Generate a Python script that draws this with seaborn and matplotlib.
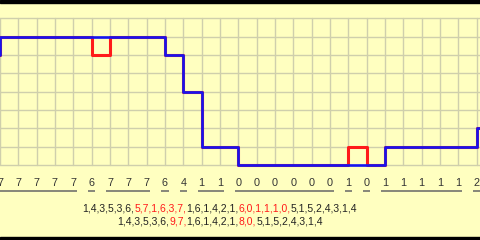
import matplotlib
matplotlib.use("Agg")
import matplotlib.pyplot as plt
import seaborn as sns
import pandas as pd
import numpy as np
from matplotlib.offsetbox import TextArea, HPacker, AnchoredOffsetbox
from matplotlib.patches import Rectangle
import matplotlib.transforms as mtransforms

# ---- data ----
positions = list(range(-1, 28))
prev_value = 6
red_values = [7, 7, 7, 7, 7, 6, 7, 7, 7, 6, 4, 1, 1, 0, 0, 0, 0, 0, 0, 1, 0, 1, 1, 1, 1, 1, 2]
blue_values = [7, 7, 7, 7, 7, 7, 7, 7, 7, 6, 4, 1, 1, 0, 0, 0, 0, 0, 0, 0, 0, 1, 1, 1, 1, 1, 2]
tick_labels = [str(v) for v in red_values]

line1_parts = [("1,4,3,5,3,6,", "k"), ("5,7,1,6,3,7,", "r"), ("1,6,1,4,2,1,", "k"),
               ("6,0,1,1,1,0,", "r"), ("5,1,5,2,4,3,1,4", "k")]
line2_parts = [("1,4,3,5,3,6,", "k"), ("9,7,", "r"), ("1,6,1,4,2,1,", "k"),
               ("8,0,", "r"), ("5,1,5,2,4,3,1,4", "k")]

sns.set_style("white")
plt.rcParams['font.family'] = ['Liberation Sans', 'DejaVu Sans']

BG = "#ffffc0"
RED = "#ff1a1a"
BLUE = "#1414f0"
TXT = "#222222"

fig = plt.figure(figsize=(4.8, 2.4), dpi=100)
fig.patch.set_facecolor(BG)
ax = fig.add_axes([0, 1 - 170 / 240, 1, 170 / 240])
ax.set_facecolor(BG)

unit = 240 / 480 * 0  # placeholder
xmax = 480 / (55 / 3)
ax.set_xlim(0, xmax)
ax.set_ylim(-5 / (55 / 3), 9)

# grid box (value 0..8, index 0..26)
for i in range(0, 27):
    ax.plot([i, i], [0, 8], color="#cfcfac", lw=1.0, zorder=1)
for v in range(0, 9):
    ax.plot([0, xmax], [v, v], color="#cfcfac", lw=1.0, zorder=1)

red_full = [prev_value] + red_values + [red_values[-1]]
blue_full = [prev_value] + blue_values + [blue_values[-1]]
df = pd.DataFrame({"pos": positions, "red": red_full, "blue": blue_full})

sns.lineplot(data=df, x="pos", y="red", ax=ax, color=RED, lw=2.2,
             drawstyle="steps-post", estimator=None, zorder=3)
sns.lineplot(data=df, x="pos", y="blue", ax=ax, color=BLUE, lw=1.9,
             drawstyle="steps-post", estimator=None, zorder=4)

ax.set_xlim(0, xmax)
ax.set_ylim(-5 / (55 / 3), 9)
ax.set_xlabel("")
ax.set_ylabel("")
ax.set_xticks([])
ax.set_yticks([])
for s in ax.spines.values():
    s.set_visible(False)

# x labels below axes with run underlines
trans = mtransforms.blended_transform_factory(ax.transData, fig.transFigure)
for i, lab in enumerate(tick_labels):
    fig.text(0, 0, "")
    ax.text(i, 1 - 183 / 240, lab, transform=trans, ha="center", va="center",
            fontsize=7.8, color="#333333", clip_on=False)

runs = []
start = 0
for i in range(1, len(tick_labels) + 1):
    if i == len(tick_labels) or tick_labels[i] != tick_labels[start]:
        runs.append((start, i - 1))
        start = i
for a, b in runs:
    ax.plot([a - 0.2, b + 0.2], [1 - 190.5 / 240] * 2, transform=trans,
            color="#666666", lw=1.1, clip_on=False, solid_capstyle="butt")


def colored_line(parts, yfrac):
    boxes = [TextArea(t, textprops=dict(color=(RED if c == "r" else TXT), fontsize=7.45))
             for t, c in parts]
    pack = HPacker(children=boxes, align="baseline", pad=0, sep=0)
    anch = AnchoredOffsetbox(loc="center", child=pack, pad=0, frameon=False,
                             bbox_to_anchor=(220 / 480, yfrac),
                             bbox_transform=fig.transFigure, borderpad=0)
    fig.add_artist(anch)


colored_line(line1_parts, 1 - 208.3 / 240)
colored_line(line2_parts, 1 - 221.7 / 240)

# black frame bars top and bottom
fig.add_artist(Rectangle((0, 1 - 2.5 / 240), 1, 2.5 / 240, transform=fig.transFigure,
                         color="black", zorder=10))
fig.add_artist(Rectangle((0, 0), 1, 3 / 240, transform=fig.transFigure,
                         color="black", zorder=10))

fig.savefig("out.png", dpi=100, facecolor=BG)
